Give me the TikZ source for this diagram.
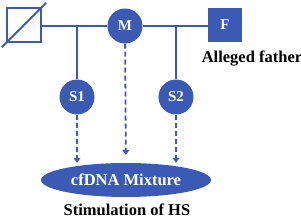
\documentclass[tikz,border=0pt]{standalone}
\usepackage{fontspec}
\setmainfont{Liberation Serif}
\usetikzlibrary{positioning, arrows.meta, shapes.geometric}
\definecolor{pedblue}{RGB}{58,90,180}

\begin{document}
\begin{tikzpicture}[x=1pt, y=-1pt,
  person/.style={circle, fill=pedblue, text=white, minimum size=35pt, inner sep=0pt,
    font=\bfseries\fontsize{15}{17}\selectfont},
  male/.style={rectangle, minimum size=34pt, inner sep=0pt,
    font=\bfseries\fontsize{15}{17}\selectfont},
  lbl/.style={font=\bfseries\fontsize{16.5}{19}\selectfont},
  line/.style={draw=pedblue, line width=1.8pt},
  arr/.style={pedblue, line width=1.8pt, dash pattern=on 5pt off 3pt,
    -{Triangle[length=5pt, width=7pt]}}]
\useasboundingbox (0,0) rectangle (301,219);
% parents and children
\node[male, draw=pedblue, line width=1.8pt] (d) at (24,25) {};
\node[person] (m) at (125,26) {M};
\node[male, fill=pedblue, text=white] (f) at (225,25) {F};
\node[lbl] (flbl) at (252,59) {Alleged father};
\node[person] (s1) at (77,97) {S1};
\node[person] (s2) at (176,97) {S2};
% sample
\node[ellipse, fill=pedblue, text=white, minimum width=170pt, minimum height=34pt,
  lbl] (mix) at (126,180) {cfDNA Mixture};
\node[lbl] (hs) at (127,210) {Stimulation of HS};
% pedigree lines
\draw[line, shorten <=-6pt, shorten >=-6pt] (d.south west) -- (d.north east);
\draw[line] (d.east |- m) -- (m.west);
\draw[line] (m.east) -- (f.west |- m);
\coordinate (j1) at (s1 |- m);
\coordinate (j2) at (s2 |- m);
\draw[line] (j1) -- (s1);
\draw[line] (j2) -- (s2);
% into the mixture
\draw[arr] (s1) -- (s1 |- mix.north);
\draw[arr] (s2) -- (s2 |- mix.north);
\draw[arr, shorten >=8pt] (m) -- (mix);
\end{tikzpicture}
\end{document}
